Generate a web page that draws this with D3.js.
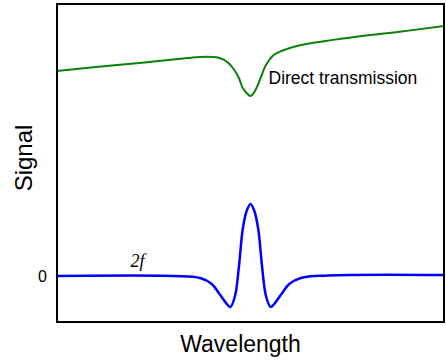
<!DOCTYPE html>
<html>
<head>
<meta charset="utf-8">
<script src="https://cdn.jsdelivr.net/npm/d3@7"></script>
<style>
  body { margin: 0; background: #fff; }
  text { font-family: "Liberation Sans", Arial, sans-serif; }
</style>
</head>
<body>
<script>
// Data (arbitrary signal units, 2f zero = 0)
var wlDirect = [0, 10, 24, 37, 40, 42, 44, 46, 47, 48, 49, 50, 51, 52, 53, 54, 56, 58, 62, 75, 88, 100];
var direct   = [20.5, 20.9, 21.4, 21.9, 21.9, 21.8, 21.4, 20.5, 19.8, 18.8, 18.3, 18.0, 18.4, 19.2, 20.2, 21.1, 22.1, 22.5, 23.0, 23.8, 24.4, 25.0];

var wl2f  = [0, 30, 37, 40, 42, 44, 44.8, 46, 47, 48, 49, 50, 51, 52, 53, 54, 55.2, 56, 58, 60, 63, 70, 100];
var sig2f = [0, 0, -0.2, -0.8, -1.8, -2.85, -3.1, -2.0, 0.9, 4.7, 6.5, 7.2, 6.5, 4.7, 0.9, -2.0, -3.1, -2.85, -1.8, -0.8, -0.2, 0.05, 0.1];

var yTicks = [0];

// afmetingen
var margin = {top: 4, right: 2, bottom: 38, left: 57},
    width = 446 - margin.left - margin.right,
    height = 360 - margin.top - margin.bottom;

var x = d3.scaleLinear().domain([0, 100]).range([0, width]);
var y = d3.scaleLinear().domain([-4.6, 27.2]).range([height, 0]);

var svg = d3.select("body").append("svg")
    .attr("width", width + margin.left + margin.right)
    .attr("height", height + margin.top + margin.bottom)
  .append("g")
    .attr("transform", "translate(" + margin.left + "," + margin.top + ")");

var line = d3.line()
    .x(function(d) { return x(d[0]); })
    .y(function(d) { return y(d[1]); })
    .curve(d3.curveCatmullRom.alpha(0.5));

// direct transmission lijn
svg.append("path")
    .datum(d3.zip(wlDirect, direct))
    .attr("fill", "none")
    .attr("stroke", "#0a820a")
    .attr("stroke-width", 2)
    .attr("d", line);

// 2f lijn
svg.append("path")
    .datum(d3.zip(wl2f, sig2f))
    .attr("fill", "none")
    .attr("stroke", "#0000ff")
    .attr("stroke-width", 2.5)
    .attr("d", line);

// kader
svg.append("rect")
    .attr("x", 0).attr("y", 0)
    .attr("width", width).attr("height", height)
    .attr("fill", "none")
    .attr("stroke", "#000")
    .attr("stroke-width", 2);

// y tick label (alleen de 0)
svg.selectAll(".ytick")
    .data(yTicks)
  .enter().append("text")
    .attr("class", "ytick")
    .attr("x", -10)
    .attr("y", function(d) { return y(d); })
    .attr("dy", "0.36em")
    .attr("text-anchor", "end")
    .style("font-size", "16px")
    .text(function(d) { return d; });

// labels
svg.append("text")
    .attr("x", x(50) + 18)
    .attr("y", 80)
    .style("font-size", "17.5px")
    .text("Direct transmission");

svg.append("text")
    .attr("x", x(19))
    .attr("y", y(0) - 9)
    .style("font-family", "Liberation Serif, Times New Roman, serif")
    .style("font-style", "italic")
    .style("font-size", "18px")
    .text("2f");

svg.append("text")
    .attr("x", width / 2 - 10)
    .attr("y", height + 30)
    .attr("text-anchor", "middle")
    .style("font-size", "23px")
    .text("Wavelength");

svg.append("text")
    .attr("transform", "translate(" + (-25) + "," + (y(11.8)) + ") rotate(-90)")
    .attr("text-anchor", "middle")
    .style("font-size", "24px")
    .text("Signal");
</script>
</body>
</html>
